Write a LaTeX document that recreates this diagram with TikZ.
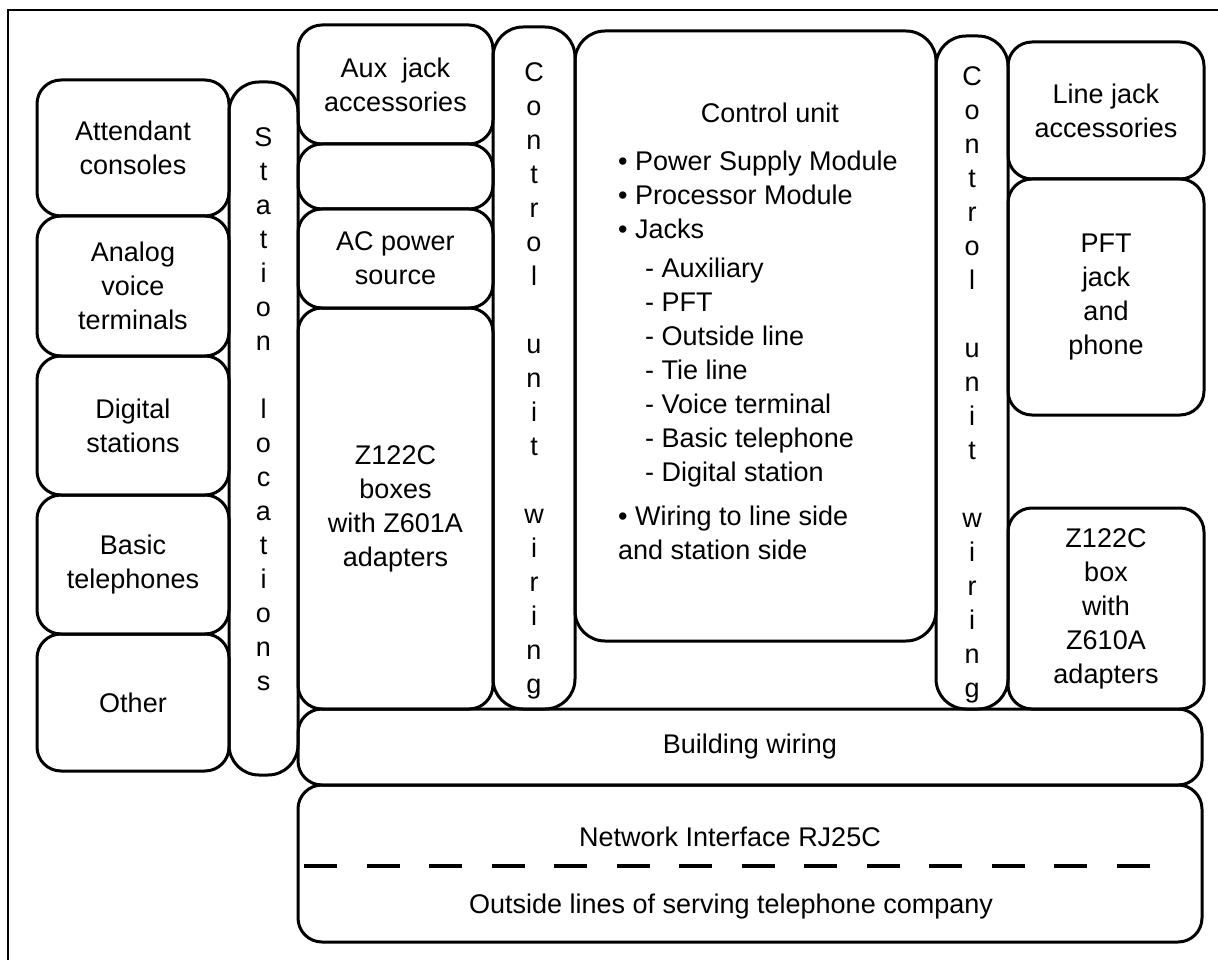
\documentclass[tikz,border=0pt]{standalone}
\usepackage{fontspec}
\setmainfont{Liberation Sans}
\usepackage{tikz}
\usetikzlibrary{positioning}

\tikzset{
    unitbox/.style={draw, line width=3pt, rounded corners=24pt, inner sep=0pt, align=center},
    wirebar/.style={unitbox, rounded corners=30pt},
    bartext/.style={inner sep=0pt, align=center, anchor=north},
}

\begin{document}
\begin{tikzpicture}[x=1pt, y=-1pt, font=\fontsize{27}{34}\selectfont]
    \useasboundingbox (0,0) rectangle (1218,960);
    % frame of the page
    \draw[line width=2.5pt] (1218,10) -- (8,10) -- (8,960);

    % station side
    \node[unitbox, minimum width=192pt, minimum height=136pt] (attendant) at (133,148) {Attendant\\consoles};
    \node[unitbox, minimum width=192pt, minimum height=140pt] (analog) at (133,286) {Analog\\voice\\terminals};
    \node[unitbox, minimum width=192pt, minimum height=139pt] (digital) at (133,425.5) {Digital\\stations};
    \node[unitbox, minimum width=192pt, minimum height=139pt] (basic) at (133,564.5) {Basic\\telephones};
    \node[unitbox, minimum width=192pt, minimum height=137pt] (other) at (133,702.5) {Other};
    \node[wirebar, minimum width=69pt, minimum height=693pt] (stationbar) at (263.5,428.5) {};
    \node[bartext] (stationtext) at (stationbar.center |- 0,127) {S\\t\\a\\t\\i\\o\\n\\[34pt]l\\o\\c\\a\\t\\i\\o\\n\\s};

    % aux side
    \node[unitbox, minimum width=195pt, minimum height=119pt] (auxjack) at (395.5,84.5) {Aux\ \ jack\\accessories};
    \node[unitbox, minimum width=195pt, minimum height=65pt] (spare) at (395.5,176.5) {};
    \node[unitbox, minimum width=195pt, minimum height=99pt] (acpower) at (395.5,258.5) {AC power\\source};
    \node[unitbox, minimum width=195pt, minimum height=401pt] (zboxes) at (395.5,508.5) {Z122C\\boxes\\with Z601A\\adapters};

    % control unit and its wiring
    \node[wirebar, minimum width=82pt, minimum height=682pt] (wireleft) at (534,368) {};
    \node[bartext] (wirelefttext) at (wireleft.center |- 0,62) {C\\o\\n\\t\\r\\o\\l\\[34pt]u\\n\\i\\t\\[34pt]w\\i\\r\\i\\n\\g};
    \node[unitbox, rounded corners=30pt, minimum width=361pt, minimum height=610pt] (control) at (755.5,336) {};
    \node[inner sep=0pt] (controltitle) at (770,113) {Control unit};
    \node[inner sep=0pt, align=left, anchor=north west] (controllist) at (618,151) {%
        • Power Supply Module\\
        • Processor Module\\
        • Jacks\\[5pt]
        \hspace*{27pt}- Auxiliary\\
        \hspace*{27pt}- PFT\\
        \hspace*{27pt}- Outside line\\
        \hspace*{27pt}- Tie line\\
        \hspace*{27pt}- Voice terminal\\
        \hspace*{27pt}- Basic telephone\\
        \hspace*{27pt}- Digital station\\[10pt]
        • Wiring to line side\\
        and station side};
    \node[wirebar, minimum width=72pt, minimum height=673pt] (wireright) at (972,372.5) {};
    \node[bartext] (wirerighttext) at (wireright.center |- 0,66) {C\\o\\n\\t\\r\\o\\l\\[34pt]u\\n\\i\\t\\[34pt]w\\i\\r\\i\\n\\g};

    % line side
    \node[unitbox, minimum width=196pt, minimum height=137pt] (linejack) at (1106,110.5) {Line jack\\accessories};
    \node[unitbox, minimum width=196pt, minimum height=236pt] (pft) at (1106,297) {PFT\\jack\\and\\phone};
    \node[unitbox, minimum width=196pt, minimum height=201pt] (zbox) at (1106,608.5) {Z122C\\box\\with\\Z610A\\adapters};

    % building and network
    \node[unitbox, minimum width=904pt, minimum height=76pt] (building) at (750,747) {Building wiring};
    \node[unitbox, minimum width=904pt, minimum height=157pt] (network) at (750,863.5) {};
    \node[inner sep=0pt] (networktext) at (730,837) {Network Interface RJ25C};
    \node[inner sep=0pt] (outsidetext) at (731,907) {Outside lines of serving telephone company};
    \draw[line width=4pt, dash pattern=on 33pt off 29.5pt] (304,866) -- (1150,866);
\end{tikzpicture}
\end{document}
